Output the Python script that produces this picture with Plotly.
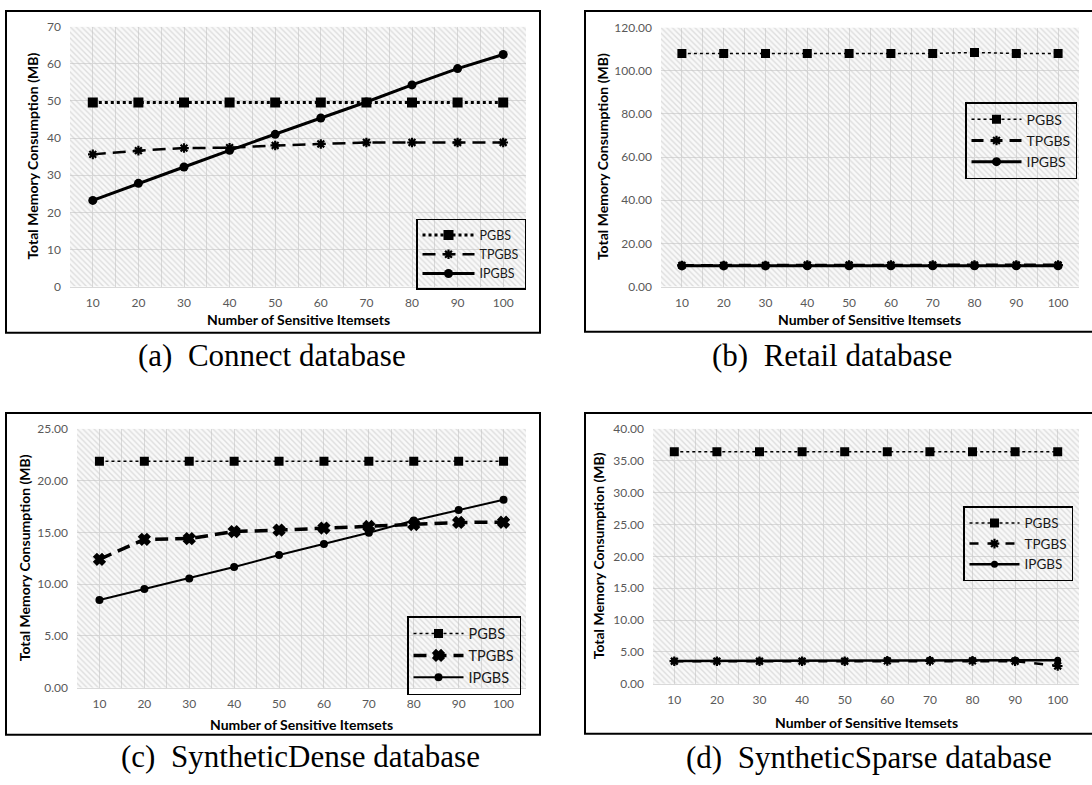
import plotly.graph_objects as go

W, H = 1092, 785

# ---- data -------------------------------------------------------------
itemsets = [10, 20, 30, 40, 50, 60, 70, 80, 90, 100]

connect_pgbs = [49.6, 49.6, 49.6, 49.6, 49.6, 49.6, 49.6, 49.6, 49.6, 49.6]
connect_tpgbs = [35.6, 36.6, 37.3, 37.4, 38.0, 38.4, 38.8, 38.8, 38.8, 38.8]
connect_ipgbs = [23.2, 27.8, 32.2, 36.7, 41.0, 45.4, 49.7, 54.3, 58.7, 62.5]

retail_pgbs = [108.0, 108.0, 108.0, 108.0, 108.0, 108.0, 108.0, 108.5, 108.0, 108.0]
retail_tpgbs = [9.8, 9.8, 9.8, 10.0, 10.0, 10.0, 10.0, 10.0, 10.0, 10.0]
retail_ipgbs = [9.6, 9.6, 9.6, 9.6, 9.6, 9.6, 9.6, 9.6, 9.6, 9.6]

dense_pgbs = [21.87, 21.87, 21.87, 21.87, 21.87, 21.87, 21.87, 21.87, 21.87, 21.87]
dense_tpgbs = [12.40, 14.33, 14.40, 15.08, 15.22, 15.42, 15.57, 15.76, 15.96, 15.98]
dense_ipgbs = [8.48, 9.53, 10.55, 11.65, 12.82, 13.89, 14.97, 16.14, 17.15, 18.16]

sparse_pgbs = [36.4, 36.4, 36.4, 36.4, 36.4, 36.4, 36.4, 36.4, 36.4, 36.4]
sparse_tpgbs = [3.55, 3.55, 3.55, 3.55, 3.55, 3.6, 3.6, 3.6, 3.55, 2.8]
sparse_ipgbs = [3.6, 3.6, 3.6, 3.6, 3.6, 3.7, 3.7, 3.7, 3.7, 3.7]

series_names = ["PGBS", "TPGBS", "IPGBS"]
captions = ["(a)  Connect database", "(b)  Retail database",
            "(c)  SyntheticDense database", "(d)  SyntheticSparse database"]
y_title = "Total Memory Consumption (MB)"
x_title = "Number of Sensitive Itemsets"

# ---- layout helpers (pixel boxes -> paper fractions) -------------------
def px_x(x):
    return x / W

def px_y(y):
    return 1 - y / H

panels = [
    dict(data=[connect_pgbs, connect_tpgbs, connect_ipgbs],
         box=(70, 526, 19, 284), ymax=70, dtick=10, fmt="d",
         frame=(6, 540, 3, 331), ytx=33, xty=318, cap=(272, 354),
         leg=(526, 215), lfont=12.5, iw=52,
         pg=dict(w=3, m=10), tp=dict(w=2.5, m=8, sym="asterisk-open", dash="13px,7px"),
         ip=dict(w=3, m=9)),
    dict(data=[retail_pgbs, retail_tpgbs, retail_ipgbs],
         box=(661, 1079, 20, 284), ymax=120, dtick=20, fmt=".2f",
         frame=(585, 1100, 3, 330), ytx=602, xty=318, cap=(832, 354),
         leg=(1077, 96), lfont=14, iw=50,
         pg=dict(w=1.5, m=9), tp=dict(w=3, m=8, sym="asterisk-open", dash="12px,7px"),
         ip=dict(w=3, m=9)),
    dict(data=[dense_pgbs, dense_tpgbs, dense_ipgbs],
         box=(77, 526, 429, 693), ymax=25, dtick=5, fmt=".2f",
         frame=(6, 540, 413, 741), ytx=24, xty=730, cap=(300, 763),
         leg=(521, 620), lfont=14.5, iw=50,
         pg=dict(w=1.5, m=9), tp=dict(w=3.5, m=9, sym="x", dash="13px,7px"),
         ip=dict(w=2, m=8)),
    dict(data=[sparse_pgbs, sparse_tpgbs, sparse_ipgbs],
         box=(653, 1079, 429, 689), ymax=40, dtick=5, fmt=".2f",
         frame=(585, 1100, 413, 740), ytx=598, xty=728, cap=(869, 764),
         leg=(1073, 508), lfont=13.5, iw=50,
         pg=dict(w=1.5, m=9), tp=dict(w=2.5, m=8, sym="asterisk-open", dash="9px,9px"),
         ip=dict(w=2.5, m=7)),
]

fig = go.Figure()
shapes, annotations = [], []
tick_font = dict(family="Lato, Carlito, sans-serif", size=12, color="#595959")
title_font = dict(family="Lato, sans-serif", size=14, color="#000000")
x_lo, x_hi = 5, 105

for i, p in enumerate(panels):
    k = "" if i == 0 else str(i + 1)
    xa, ya = "x" + k, "y" + k
    legend_id = "legend" + k
    x0, x1, y0, y1 = p["box"]

    fig.layout["xaxis" + k] = dict(
        domain=[px_x(x0), px_x(x1)], range=[x_lo, x_hi], anchor=ya,
        tickvals=itemsets, ticktext=[str(v) for v in itemsets],
        showgrid=True, gridcolor="#d9d9d9", gridwidth=1,
        minor=dict(tick0=5, dtick=10, showgrid=True, gridcolor="#d9d9d9", gridwidth=1),
        showline=True, linecolor="#d9d9d9", linewidth=1,
        ticks="", ticklabelstandoff=5, tickfont=tick_font, zeroline=False,
        fixedrange=True,
    )
    fig.layout["yaxis" + k] = dict(
        domain=[px_y(y1), px_y(y0)], range=[0, p["ymax"]], anchor=xa,
        dtick=p["dtick"], tick0=0, tickformat=p["fmt"],
        showgrid=True, gridcolor="#d9d9d9", gridwidth=1,
        showline=False, zeroline=False, ticks="", ticklabelstandoff=8,
        tickfont=tick_font, fixedrange=True,
    )

    # hatched plot-area background
    fig.add_trace(go.Scatter(
        x=[x_lo, x_hi, x_hi, x_lo, x_lo], y=[0, 0, p["ymax"], p["ymax"], 0],
        xaxis=xa, yaxis=ya, mode="lines", line=dict(width=0),
        fill="toself", fillcolor="rgba(0,0,0,0)",
        fillpattern=dict(shape="\\", fgcolor="#c2c2c2", bgcolor="rgba(255,255,255,0)",
                         size=4, solidity=0.35),
        hoverinfo="skip", showlegend=False,
    ))

    pg, tp, ip = p["data"]
    styles = [
        dict(line=dict(color="black", width=p["pg"]["w"], dash="dot"),
             marker=dict(symbol="square", size=p["pg"]["m"], color="black")),
        dict(line=dict(color="black", width=p["tp"]["w"], dash=p["tp"]["dash"]),
             marker=dict(symbol=p["tp"]["sym"], size=p["tp"]["m"], color="black",
                         line=dict(color="black", width=2.2))),
        dict(line=dict(color="black", width=p["ip"]["w"]),
             marker=dict(symbol="circle", size=p["ip"]["m"], color="black")),
    ]
    for name, vals, st in zip(series_names, [pg, tp, ip], styles):
        fig.add_trace(go.Scatter(
            x=itemsets, y=vals, xaxis=xa, yaxis=ya, mode="lines+markers",
            name=name, legend=legend_id, **st,
        ))

    lx, ly = p["leg"]
    fig.layout[legend_id] = dict(
        x=px_x(lx), xanchor="right", y=px_y(ly), yanchor="top",
        bordercolor="black", borderwidth=1.5, bgcolor="rgba(0,0,0,0)",
        font=dict(family="Lato, sans-serif", size=p["lfont"], color="#1a1a1a"),
        itemwidth=p["iw"], traceorder="normal",
    )

    fx0, fx1, fy0, fy1 = p["frame"]
    shapes.append(dict(type="rect", xref="paper", yref="paper",
                       x0=px_x(fx0), x1=px_x(fx1), y0=px_y(fy1), y1=px_y(fy0),
                       line=dict(color="black", width=2)))

    annotations.append(dict(text=f"<b>{y_title}</b>", xref="paper", yref="paper",
                            x=px_x(p["ytx"]), y=px_y((y0 + y1) / 2), textangle=-90,
                            showarrow=False, font=title_font,
                            xanchor="center", yanchor="middle"))
    annotations.append(dict(text=f"<b>{x_title}</b>", xref="paper", yref="paper",
                            x=px_x((x0 + x1) / 2), y=px_y(p["xty"]),
                            showarrow=False, font=title_font,
                            xanchor="center", yanchor="middle"))
    cx, cy = p["cap"]
    annotations.append(dict(text=captions[i], xref="paper", yref="paper",
                            x=px_x(cx), y=px_y(cy), showarrow=False,
                            font=dict(family="Liberation Serif, Times New Roman, serif",
                                      size=31, color="black"),
                            xanchor="center", yanchor="middle"))

fig.update_layout(
    width=W, height=H, margin=dict(l=0, r=0, t=0, b=0),
    paper_bgcolor="white", plot_bgcolor="#f9f9f9",
    shapes=shapes, annotations=annotations, hovermode=False,
)

fig.write_html("out.html", config=dict(displayModeBar=False))
